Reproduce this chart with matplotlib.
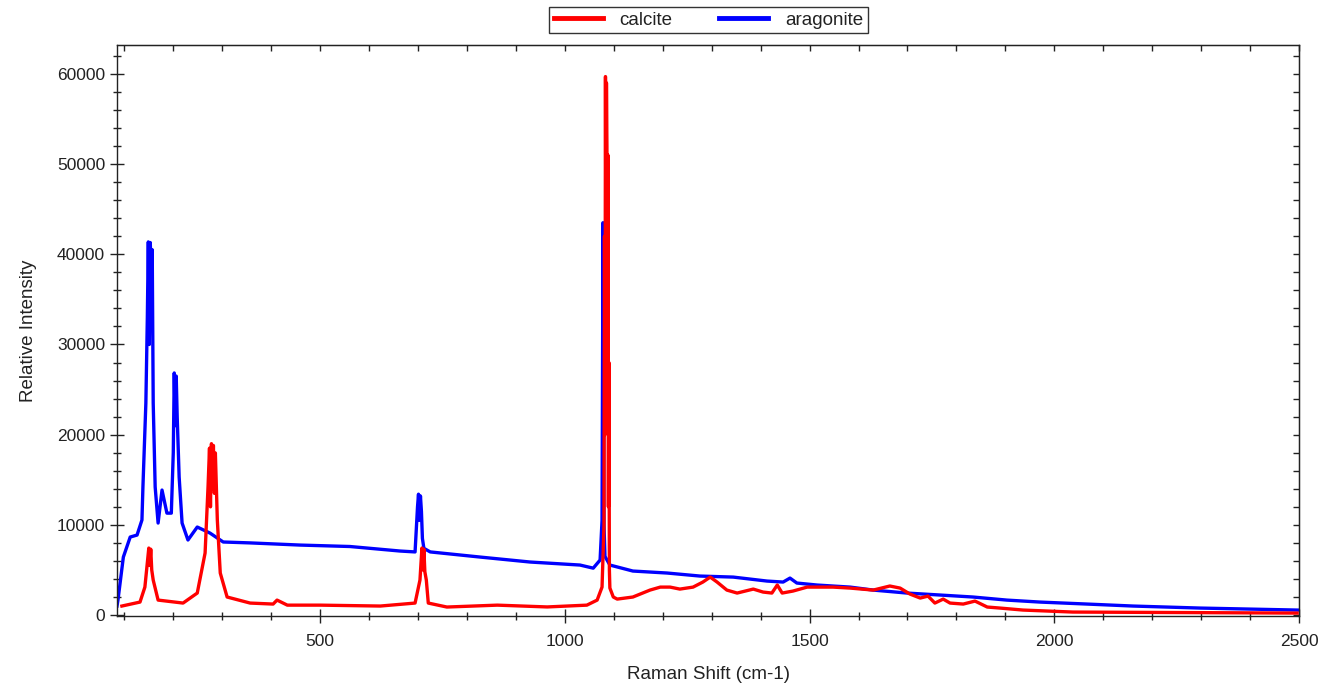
"""
plot.py
=======
Raman spectra of calcite and aragonite (values read off a reference chart).
"""

import matplotlib
matplotlib.use("Agg")
import matplotlib.pyplot as plt
from matplotlib.ticker import MultipleLocator, NullLocator

plt.rcParams['font.family'] = ['Liberation Sans', 'DejaVu Sans']

# aragonite spectrum: Raman shift (cm-1) and intensity
aragonite_shift = [85, 87, 98, 112, 126, 136, 138, 144, 147, 149, 151, 153, 155, 157, 159,
                   163, 169, 177, 187, 196, 200, 202, 204, 206, 208, 212, 218, 230, 249,
                   275, 302, 357, 459, 561, 663, 694, 699, 701, 703, 705, 707, 709, 712,
                   725, 827, 929, 1031, 1058, 1072, 1076, 1078, 1080, 1082, 1092, 1139,
                   1209, 1276, 1344, 1413, 1446, 1460, 1474, 1515, 1583, 1630, 1699, 1767,
                   1834, 1903, 1971, 2067, 2161, 2298, 2496, 2500]
aragonite_int = [1000, 1660, 6430, 8650, 8870, 10540, 14200, 23500, 33000, 41370, 30000,
                 41300, 38000, 40500, 23500, 14200, 10200, 13860, 11300, 11300, 18000,
                 26840, 21000, 26500, 22000, 15300, 10200, 8320, 9760, 9090, 8100, 8000,
                 7760, 7600, 7100, 7000, 12000, 13400, 10500, 13200, 11500, 8500, 7400,
                 7000, 6430, 5880, 5545, 5200, 6100, 10500, 43500, 10000, 6500, 5545, 4880,
                 4660, 4325, 4210, 3770, 3660, 4100, 3550, 3330, 3100, 2770, 2440, 2220,
                 2000, 1660, 1440, 1220, 1000, 776, 555, 550]

# calcite spectrum
calcite_shift = [95, 132, 142, 150, 152, 154, 156, 159, 169, 220, 249, 265, 271, 274, 276,
                 278, 280, 282, 284, 286, 290, 296, 310, 357, 404, 412, 433, 500, 623, 694,
                 704, 708, 710, 712, 714, 717, 721, 759, 862, 964, 1045, 1066, 1076, 1080,
                 1081, 1082, 1083, 1084, 1085, 1086, 1087, 1088, 1089, 1090, 1091, 1092,
                 1099, 1107, 1139, 1174, 1195, 1215, 1235, 1262, 1282, 1297, 1311, 1331,
                 1352, 1385, 1405, 1423, 1434, 1444, 1466, 1495, 1548, 1583, 1630, 1664,
                 1685, 1705, 1726, 1742, 1756, 1773, 1787, 1814, 1838, 1863, 1889, 1936,
                 2038, 2496]
calcite_int = [1000, 1440, 3100, 7430, 5500, 7300, 5000, 3880, 1660, 1330, 2440, 6880,
               14200, 18500, 12000, 19000, 14000, 18800, 13500, 17970, 10540, 4660, 2000,
               1330, 1220, 1660, 1100, 1100, 1000, 1330, 3880, 7430, 5000, 7300, 4800,
               3880, 1330, 890, 1100, 900, 1100, 1660, 3100, 10000, 42000, 20000, 59700,
               35000, 59000, 51900, 27000, 51000, 12000, 28000, 5000, 3000, 2000, 1770,
               2000, 2770, 3100, 3100, 2880, 3100, 3660, 4210, 3660, 2770, 2440, 2880,
               2550, 2440, 3330, 2440, 2660, 3100, 3100, 2990, 2770, 3220, 2990, 2330,
               1885, 2100, 1330, 1770, 1330, 1220, 1550, 890, 776, 555, 333, 220]

x_ticks = [500, 1000, 1500, 2000, 2500]
y_ticks = [0, 10000, 20000, 30000, 40000, 50000, 60000]

text_color = '#222222'

fig = plt.figure(figsize=(13.37, 6.88), dpi=100)
ax = fig.add_axes([0.0875, 0.1047, 0.8841, 0.8299])

ax.plot(calcite_shift, calcite_int, color='#ff0000', linewidth=2.4, label='calcite', zorder=3)
ax.plot(aragonite_shift, aragonite_int, color='#0000ff', linewidth=2.4, label='aragonite', zorder=2)

ax.set_xlim(85, 2500)
ax.set_ylim(-100, 63200)

ax.set_xticks(x_ticks)
ax.set_yticks(y_ticks)
ax.xaxis.set_minor_locator(MultipleLocator(100))
ax.yaxis.set_minor_locator(MultipleLocator(2000))
ax.tick_params(which='major', direction='inout', length=10, width=1.0,
               labelsize=12.5, labelcolor=text_color, color='#222222')
ax.tick_params(which='minor', direction='inout', length=6, width=1.0, color='#222222')
ax.tick_params(axis='x', pad=8)

for s in ax.spines.values():
    s.set_linewidth(1.0)
    s.set_color('#222222')

# top and right ticks point inwards
top = ax.secondary_xaxis('top')
top.xaxis.set_major_locator(MultipleLocator(100))
top.xaxis.set_minor_locator(NullLocator())
top.tick_params(direction='in', length=4, width=1.0, labeltop=False, color='#222222')
right = ax.secondary_yaxis('right')
right.yaxis.set_major_locator(MultipleLocator(2000))
right.yaxis.set_minor_locator(NullLocator())
right.tick_params(direction='in', length=4, width=1.0, labelright=False, color='#222222')

ax.set_xlabel('Raman Shift (cm-1)', fontsize=13.5, color=text_color, labelpad=12)
ax.set_ylabel('Relative Intensity', fontsize=13.5, color=text_color, labelpad=14)

leg = fig.legend(loc='center', bbox_to_anchor=(0.53, 0.971), ncol=2, fontsize=13.5,
                 frameon=True, fancybox=False, edgecolor='black', handlelength=2.6,
                 handletextpad=0.9, columnspacing=2.5, borderpad=0.25,
                 borderaxespad=0)
leg.get_frame().set_linewidth(1.0)
for line in leg.get_lines():
    line.set_linewidth(3.5)
for t in leg.get_texts():
    t.set_color(text_color)

fig.savefig('out.png', dpi=100)
